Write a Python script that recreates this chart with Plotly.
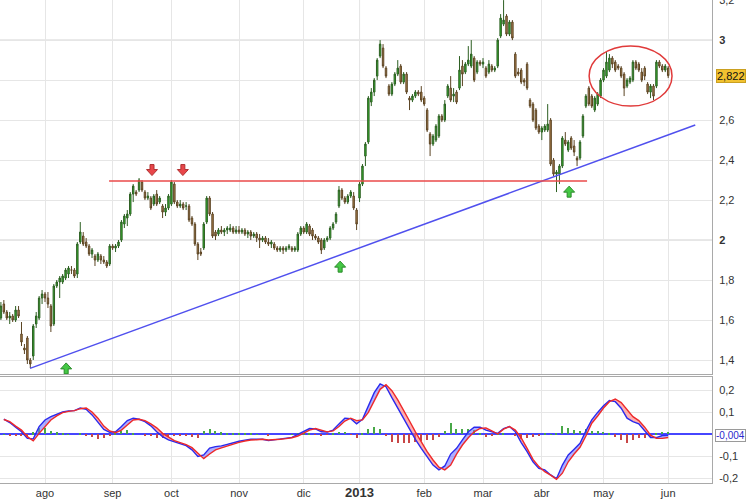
import pandas as pd
import plotly.graph_objects as go

# ---------------- sessions (Spanish market calendar) ----------------
holidays = ["2012-12-25", "2012-12-26", "2013-01-01", "2013-03-29", "2013-04-01", "2013-05-01"]
sessions = pd.bdate_range("2012-07-11", "2013-06-03")
sessions = sessions[~sessions.isin(pd.to_datetime(holidays))]

# ---------------- daily OHLC, by month ----------------
open_jul = [1.61,1.68,1.64,1.61,1.62,1.60,1.65,1.53,1.46,1.51,1.40,1.42,1.58,1.61,1.71]
high_jul = [1.69,1.70,1.65,1.64,1.63,1.67,1.67,1.59,1.48,1.52,1.41,1.58,1.64,1.72,1.75]
low_jul  = [1.60,1.63,1.60,1.58,1.59,1.59,1.61,1.47,1.43,1.38,1.36,1.40,1.56,1.60,1.68]
close_jul= [1.67,1.64,1.61,1.62,1.60,1.65,1.62,1.49,1.45,1.40,1.38,1.57,1.62,1.71,1.73]

open_aug = [1.73,1.71,1.67,1.58,1.77,1.79,1.79,1.81,1.83,1.85,1.85,1.83,1.99,2.02,1.99,1.97,1.93,1.92,1.90,1.92,1.90,1.89,1.88]
high_aug = [1.74,1.74,1.68,1.78,1.80,1.82,1.83,1.86,1.87,1.87,1.86,1.99,2.09,2.04,2.01,1.98,1.96,1.93,1.94,1.93,1.92,1.90,1.98]
low_aug  = [1.69,1.66,1.54,1.57,1.76,1.71,1.78,1.80,1.81,1.83,1.81,1.81,1.98,1.97,1.96,1.92,1.91,1.87,1.89,1.88,1.88,1.86,1.87]
close_aug= [1.71,1.68,1.57,1.77,1.79,1.81,1.82,1.85,1.86,1.85,1.82,1.98,2.04,1.98,1.97,1.93,1.95,1.90,1.93,1.90,1.89,1.87,1.97]

open_sep = [1.97,1.96,1.97,2.00,2.08,2.11,2.13,2.23,2.24,2.25,2.29,2.24,2.21,2.21,2.18,2.23,2.19,2.17,2.14,2.16]
high_sep = [1.98,1.98,2.00,2.10,2.13,2.15,2.24,2.28,2.25,2.31,2.30,2.25,2.24,2.22,2.23,2.25,2.22,2.18,2.18,2.23]
low_sep  = [1.95,1.94,1.96,1.99,2.06,2.07,2.12,2.19,2.22,2.24,2.24,2.20,2.20,2.15,2.17,2.17,2.18,2.11,2.12,2.15]
close_sep= [1.96,1.97,1.99,2.09,2.12,2.13,2.23,2.27,2.23,2.30,2.25,2.21,2.22,2.16,2.22,2.18,2.21,2.14,2.16,2.22]

open_oct = [2.18,2.28,2.19,2.17,2.18,2.17,2.17,2.11,2.08,1.98,1.94,1.96,2.09,2.21,2.13,2.04,2.03,2.05,2.04,2.05,2.05,2.06,2.04]
high_oct = [2.30,2.29,2.20,2.20,2.19,2.19,2.18,2.12,2.09,1.99,1.96,2.09,2.22,2.22,2.14,2.05,2.06,2.07,2.06,2.07,2.08,2.07,2.07]
low_oct  = [2.17,2.18,2.16,2.16,2.15,2.15,2.09,2.07,1.97,1.90,1.92,1.95,2.08,2.12,2.01,2.00,2.02,2.03,2.02,2.03,2.04,2.03,2.03]
close_oct= [2.29,2.19,2.17,2.18,2.16,2.17,2.10,2.08,1.98,1.93,1.93,2.08,2.21,2.13,2.02,2.02,2.05,2.04,2.05,2.06,2.06,2.04,2.05]

open_nov = [2.05,2.04,2.05,2.03,2.04,2.02,2.03,2.01,2.00,2.01,1.99,1.98,1.98,1.96,1.95,1.96,1.95,1.96,1.96,1.95,1.95,2.03]
high_nov = [2.07,2.06,2.06,2.05,2.05,2.04,2.04,2.03,2.02,2.02,2.01,2.00,1.99,1.97,1.97,1.97,1.97,1.98,1.97,1.97,2.04,2.07]
low_nov  = [2.03,2.03,2.02,2.01,2.00,2.01,1.99,1.96,1.99,1.98,1.97,1.96,1.95,1.94,1.94,1.93,1.94,1.95,1.94,1.94,1.94,2.02]
close_nov= [2.04,2.05,2.03,2.04,2.02,2.03,2.01,2.00,2.01,1.99,1.98,1.99,1.96,1.95,1.96,1.95,1.96,1.97,1.95,1.96,2.03,2.06]

open_dec = [2.06,2.04,2.07,2.05,2.02,2.01,2.00,1.96,2.00,2.01,2.06,2.09,2.17,2.25,2.21,2.19,2.22,2.22,2.15]
high_dec = [2.07,2.09,2.08,2.06,2.03,2.02,2.01,2.01,2.02,2.07,2.09,2.14,2.27,2.26,2.22,2.23,2.25,2.24,2.16]
low_dec  = [2.03,2.03,2.02,2.00,2.00,1.98,1.93,1.95,1.99,2.00,2.05,2.08,2.16,2.20,2.18,2.18,2.21,2.15,2.05]
close_dec= [2.04,2.08,2.03,2.02,2.01,1.99,1.95,2.00,2.01,2.06,2.08,2.13,2.25,2.21,2.19,2.22,2.24,2.16,2.08]

open_jan = [2.21,2.28,2.42,2.49,2.69,2.74,2.82,2.92,2.96,2.86,2.77,2.73,2.78,2.83,2.87,2.79,2.83,2.71,2.70,2.72,2.74,2.74]
high_jan = [2.29,2.38,2.49,2.72,2.76,2.81,2.91,3.00,2.98,2.87,2.78,2.79,2.84,2.90,2.88,2.84,2.84,2.72,2.73,2.75,2.75,2.77]
low_jan  = [2.19,2.27,2.37,2.48,2.67,2.72,2.80,2.91,2.86,2.81,2.72,2.72,2.77,2.82,2.78,2.78,2.73,2.65,2.69,2.71,2.72,2.69]
close_jan= [2.28,2.37,2.48,2.71,2.74,2.80,2.90,2.98,2.87,2.82,2.73,2.78,2.83,2.86,2.79,2.83,2.74,2.70,2.72,2.74,2.73,2.70]

open_feb = [2.71,2.65,2.53,2.48,2.50,2.52,2.62,2.60,2.72,2.76,2.72,2.74,2.76,2.87,2.84,2.88,2.87,2.91,2.84,2.89]
high_feb = [2.72,2.66,2.54,2.53,2.58,2.63,2.63,2.70,2.78,2.82,2.76,2.75,2.92,2.90,2.89,2.97,3.00,2.92,2.90,2.90]
low_feb  = [2.67,2.54,2.42,2.47,2.49,2.51,2.59,2.59,2.71,2.69,2.69,2.68,2.75,2.77,2.83,2.87,2.86,2.79,2.83,2.87]
close_feb= [2.68,2.55,2.48,2.52,2.57,2.62,2.60,2.68,2.77,2.70,2.73,2.69,2.85,2.83,2.88,2.90,2.93,2.80,2.89,2.88]

open_mar = [2.88,2.86,2.84,2.87,2.85,2.87,3.02,3.08,3.12,3.03,3.09,2.93,2.84,2.85,2.80,2.88,2.70,2.68,2.65,2.57]
high_mar = [2.91,2.87,2.90,2.88,2.87,3.01,3.13,3.20,3.13,3.10,3.10,2.94,2.86,2.86,2.81,2.89,2.71,2.69,2.66,2.58]
low_mar  = [2.86,2.81,2.83,2.84,2.84,2.86,3.01,3.07,3.02,3.02,3.00,2.81,2.82,2.78,2.77,2.75,2.66,2.59,2.55,2.53]
close_mar= [2.89,2.82,2.88,2.85,2.86,3.00,3.11,3.10,3.03,3.09,3.01,2.82,2.83,2.79,2.79,2.76,2.67,2.60,2.56,2.54]

open_apr = [2.54,2.55,2.55,2.60,2.40,2.33,2.33,2.37,2.50,2.45,2.51,2.47,2.41,2.41,2.52,2.67,2.76,2.72,2.65,2.68,2.72]
high_apr = [2.57,2.58,2.68,2.61,2.41,2.35,2.38,2.52,2.54,2.50,2.52,2.50,2.42,2.50,2.63,2.73,2.77,2.73,2.72,2.74,2.81]
low_apr  = [2.50,2.54,2.54,2.37,2.32,2.24,2.28,2.36,2.47,2.44,2.45,2.42,2.37,2.40,2.51,2.66,2.67,2.66,2.64,2.67,2.71]
close_apr= [2.56,2.57,2.58,2.38,2.33,2.34,2.37,2.51,2.48,2.49,2.46,2.44,2.40,2.49,2.62,2.72,2.68,2.67,2.71,2.73,2.80]

open_may = [2.80,2.82,2.85,2.91,2.89,2.87,2.86,2.83,2.77,2.79,2.80,2.89,2.88,2.84,2.86,2.78,2.74,2.77,2.77,2.89,2.87,2.85]
high_may = [2.86,2.94,2.93,2.92,2.90,2.88,2.87,2.84,2.81,2.82,2.90,2.90,2.89,2.86,2.87,2.79,2.78,2.78,2.90,2.90,2.88,2.88]
low_may  = [2.79,2.81,2.84,2.86,2.84,2.85,2.81,2.72,2.76,2.78,2.79,2.85,2.84,2.79,2.80,2.73,2.71,2.70,2.76,2.86,2.84,2.84]
close_may= [2.85,2.89,2.91,2.88,2.85,2.86,2.82,2.76,2.80,2.81,2.89,2.86,2.85,2.80,2.82,2.74,2.77,2.72,2.89,2.87,2.85,2.87]

open_jun = [2.86]
high_jun = [2.87]
low_jun  = [2.81]
close_jun= [2.822]

opens  = open_jul+open_aug+open_sep+open_oct+open_nov+open_dec+open_jan+open_feb+open_mar+open_apr+open_may+open_jun
highs  = high_jul+high_aug+high_sep+high_oct+high_nov+high_dec+high_jan+high_feb+high_mar+high_apr+high_may+high_jun
lows   = low_jul+low_aug+low_sep+low_oct+low_nov+low_dec+low_jan+low_feb+low_mar+low_apr+low_may+low_jun
closes = close_jul+close_aug+close_sep+close_oct+close_nov+close_dec+close_jan+close_feb+close_mar+close_apr+close_may+close_jun

n = min(len(sessions), len(opens), len(highs), len(lows), len(closes))
sessions = sessions[:n]
xs = list(range(n))

# ---------------- MACD (read every second session, starting at the 2nd) ----------------
macd_vals = [0.070,0.054,0.033,0.012,-0.018,-0.020,0.036,0.066,0.081,0.093,
             0.102,0.107,0.108,0.120,0.114,0.089,0.054,0.023,0.010,0.012,
             0.036,0.063,0.074,0.069,0.058,0.039,0.012,-0.010,-0.025,-0.033,
             -0.040,-0.051,-0.070,-0.100,-0.093,-0.062,-0.055,-0.052,-0.045,-0.037,
             -0.031,-0.026,-0.022,-0.022,-0.022,-0.028,-0.025,-0.022,-0.019,-0.013,
             0.000,0.012,0.027,0.025,0.012,0.011,0.020,0.048,0.074,0.072,
             0.048,0.069,0.127,0.190,0.230,0.217,0.167,0.119,0.074,0.023,
             -0.022,-0.063,-0.101,-0.139,-0.161,-0.143,-0.089,-0.063,-0.025,0.012,
             0.033,0.033,0.020,0.011,0.005,0.027,0.036,0.012,-0.037,-0.078,
             -0.124,-0.154,-0.161,-0.184,-0.201,-0.139,-0.093,-0.067,-0.040,0.016,
             0.066,0.100,0.130,0.154,0.149,0.119,0.074,0.058,0.048,0.017,
             -0.014,-0.014,-0.005,-0.004]
signal_vals = [0.068,0.058,0.038,0.020,-0.010,-0.029,0.005,0.036,0.066,0.084,
               0.099,0.105,0.108,0.117,0.120,0.102,0.074,0.038,0.016,0.008,
               0.020,0.043,0.066,0.069,0.063,0.048,0.030,0.005,-0.013,-0.028,
               -0.037,-0.046,-0.060,-0.083,-0.110,-0.089,-0.070,-0.061,-0.052,-0.043,
               -0.036,-0.030,-0.025,-0.024,-0.022,-0.025,-0.025,-0.022,-0.019,-0.015,
               -0.007,0.005,0.020,0.027,0.020,0.012,0.016,0.036,0.061,0.074,
               0.063,0.066,0.100,0.154,0.205,0.226,0.199,0.157,0.111,0.061,
               0.012,-0.033,-0.078,-0.116,-0.149,-0.161,-0.139,-0.089,-0.048,-0.015,
               0.012,0.027,0.030,0.016,0.002,0.024,0.036,0.020,-0.016,-0.063,
               -0.113,-0.146,-0.169,-0.185,-0.204,-0.176,-0.124,-0.089,-0.058,-0.007,
               0.051,0.084,0.120,0.149,0.161,0.145,0.111,0.081,0.063,0.033,
               -0.003,-0.018,-0.018,-0.014]
macd_x = list(range(1, n, 2))
m = min(len(macd_x), len(macd_vals), len(signal_vals))
macd_x, macd_vals, signal_vals = macd_x[:m], macd_vals[:m], signal_vals[:m]
hist_vals = [a - b for a, b in zip(macd_vals, signal_vals)]

# ---------------- axis labels ----------------
month_keys = ["2012-08","2012-09","2012-10","2012-11","2012-12","2013-01","2013-02","2013-03","2013-04","2013-05","2013-06"]
month_labels = ["ago","sep","oct","nov","dic","<b><span style='font-size:13px'>2013</span></b>","feb","mar","abr","may","jun"]
keys = list(sessions.strftime("%Y-%m"))
month_pos = [keys.index(k) for k in month_keys]

price_ticks = [1.4,1.6,1.8,2.0,2.2,2.4,2.6,2.8,3.0,3.2]
price_labels = ["1,4","1,6","1,8","<b>2</b>","2,2","2,4","2,6","","<b>3</b>","3,2"]  # 2,8 sits under the last-price tag
macd_ticks = [-0.2,-0.1,0.1,0.2]
macd_labels = ["-0,2","-0,1","0,1","0,2"]

# ---------------- chart annotations (levels) ----------------
support_start = (9.9, 1.358)
support_end = (236.2, 2.575)
resistance_level = 2.295
resistance_span = (36.8, 199.4)
range_box = (200.1, 228.3, 2.67, 2.971)
down_arrows = [(51.4, 2.35), (61.9, 2.35)]
up_arrows = [(22.2, 1.358), (115.4, 1.867), (193.3, 2.242)]

FONT = "Liberation Sans, Arial, sans-serif"
GRID = "#e6e6e6"
BORDER = "#a9a9a9"
fig = go.Figure()

fig.add_trace(go.Candlestick(
    x=xs, open=opens[:n], high=highs[:n], low=lows[:n], close=closes[:n],
    increasing=dict(line=dict(color="#2d5f22", width=1), fillcolor="#34b82e"),
    decreasing=dict(line=dict(color="#5b4423", width=1), fillcolor="#b58650"),
    whiskerwidth=0, hoverinfo="skip", xaxis="x", yaxis="y", showlegend=False))

# histogram
fig.add_trace(go.Bar(x=macd_x, y=hist_vals, width=0.4,
                     marker=dict(color=["#48a848" if v >= 0 else "#c84646" for v in hist_vals], line=dict(width=0)),
                     xaxis="x2", yaxis="y2", showlegend=False, hoverinfo="skip"))

# fills between MACD and signal
px_, pm_, ps_ = [macd_x[0]], [macd_vals[0]], [signal_vals[0]]
for i in range(1, m):
    d0 = macd_vals[i-1] - signal_vals[i-1]
    d1 = macd_vals[i] - signal_vals[i]
    if d0 * d1 < 0:
        t = d0 / (d0 - d1)
        xc = macd_x[i-1] + t * (macd_x[i] - macd_x[i-1])
        yc = macd_vals[i-1] + t * (macd_vals[i] - macd_vals[i-1])
        px_.append(xc); pm_.append(yc); ps_.append(yc)
    px_.append(macd_x[i]); pm_.append(macd_vals[i]); ps_.append(signal_vals[i])

runs = []
cur = [0]
for i in range(1, len(px_)):
    cur.append(i)
    if abs(pm_[i] - ps_[i]) < 1e-12:
        runs.append(cur)
        cur = [i]
if len(cur) > 1:
    runs.append(cur)
for r in runs:
    s = sum(pm_[i] - ps_[i] for i in r)
    if abs(s) < 1e-12:
        continue
    col = "rgba(110,110,255,0.55)" if s > 0 else "rgba(255,110,110,0.55)"
    rx = [px_[i] for i in r]
    fig.add_trace(go.Scatter(x=rx + rx[::-1], y=[pm_[i] for i in r] + [ps_[i] for i in r][::-1],
                             fill="toself", fillcolor=col, mode="none", xaxis="x2", yaxis="y2",
                             showlegend=False, hoverinfo="skip"))

fig.add_trace(go.Scatter(x=macd_x, y=macd_vals, mode="lines", line=dict(color="#2a2aee", width=1.4),
                         xaxis="x2", yaxis="y2", showlegend=False, hoverinfo="skip"))
fig.add_trace(go.Scatter(x=macd_x, y=signal_vals, mode="lines", line=dict(color="#ee2a2a", width=1.4),
                         xaxis="x2", yaxis="y2", showlegend=False, hoverinfo="skip"))

shapes = []
jan_pos = month_pos[5]
shapes.append(dict(type="line", xref="x", yref="y domain", x0=jan_pos, x1=jan_pos, y0=0, y1=1,
                   line=dict(color="#c6c6c6", width=1), layer="below"))
shapes.append(dict(type="line", xref="x2", yref="y2 domain", x0=jan_pos, x1=jan_pos, y0=0, y1=1,
                   line=dict(color="#c6c6c6", width=1), layer="below"))
for lv in (2.0, 3.0):
    shapes.append(dict(type="line", xref="x domain", yref="y", x0=0, x1=1, y0=lv, y1=lv,
                       line=dict(color="#cdcdcd", width=1), layer="below"))
shapes.append(dict(type="line", xref="x", yref="y", x0=support_start[0], y0=support_start[1],
                   x1=support_end[0], y1=support_end[1], line=dict(color="#5050ee", width=1.5)))
shapes.append(dict(type="line", xref="x", yref="y", x0=resistance_span[0], x1=resistance_span[1],
                   y0=resistance_level, y1=resistance_level, line=dict(color="#ea4a4a", width=1.5)))
shapes.append(dict(type="circle", xref="x", yref="y", x0=range_box[0], x1=range_box[1],
                   y0=range_box[2], y1=range_box[3], line=dict(color="#e03a3a", width=1.5)))

def arrow_path(up):
    pts = [(-2, 5.5), (2, 5.5), (2, 0.5), (5.5, 0.5), (0, -5.5), (-5.5, 0.5), (-2, 0.5)]
    if up:
        pts = [(a, -b) for a, b in pts]
    return "M " + " L ".join(f"{a} {b}" for a, b in pts) + " Z"

for ax_, ay_ in down_arrows:
    shapes.append(dict(type="path", xref="x", yref="y", xsizemode="pixel", ysizemode="pixel",
                       xanchor=ax_, yanchor=ay_, path=arrow_path(False),
                       fillcolor="#e8464a", line=dict(color="#b03030", width=1)))
for ax_, ay_ in up_arrows:
    shapes.append(dict(type="path", xref="x", yref="y", xsizemode="pixel", ysizemode="pixel",
                       xanchor=ax_, yanchor=ay_, path=arrow_path(True),
                       fillcolor="#44c844", line=dict(color="#2a8a2a", width=1)))

annotations = [
    dict(xref="paper", x=1, xanchor="left", xshift=4, yref="y", y=closes[n-1],
         text=f"{closes[n-1]:.3f}".replace(".", ","), showarrow=False,
         font=dict(family=FONT, size=11, color="#111"), bgcolor="#f2c230", bordercolor="#caa020",
         borderwidth=1, borderpad=0),
    dict(xref="paper", x=1, xanchor="left", xshift=3, yref="y2", y=macd_vals[-1],
         text=f"{macd_vals[-1]:.3f}".replace(".", ","), showarrow=False,
         font=dict(family=FONT, size=10, color="#2a2acc"), bgcolor="white", bordercolor="#9a9a9a",
         borderwidth=1, borderpad=0),
]

xr = [-0.31, 241.9]
fig.update_layout(
    width=746, height=500,
    margin=dict(l=0, r=34, t=0, b=17, autoexpand=False),
    paper_bgcolor="white", plot_bgcolor="white",
    font=dict(family=FONT, size=11, color="#333"),
    hovermode=False, bargap=0,
    shapes=shapes, annotations=annotations,
    xaxis=dict(domain=[0, 1], anchor="y", range=xr, tickvals=month_pos, showticklabels=False,
               showgrid=True, gridcolor=GRID, zeroline=False, showline=True, linecolor=BORDER,
               ticks="", automargin=False, rangeslider=dict(visible=False)),
    xaxis2=dict(domain=[0, 1], anchor="y2", matches="x", range=xr, tickvals=month_pos, ticktext=month_labels,
                showgrid=True, gridcolor=GRID, zeroline=False, showline=True, mirror=True, linecolor=BORDER,
                ticks="", automargin=False, tickfont=dict(family=FONT, size=11, color="#333")),
    yaxis=dict(domain=[109/483, 1], anchor="x", side="right", range=[1.33, 3.2005],
               tickvals=price_ticks, ticktext=price_labels, showgrid=True, gridcolor=GRID,
               zeroline=False, showline=True, linecolor=BORDER, ticks="", ticklabelstandoff=4,
               ticklabeloverflow="allow", automargin=False,
               tickfont=dict(family=FONT, size=11, color="#333")),
    yaxis2=dict(domain=[0, 106/483], anchor="x2", side="right", range=[-0.2205, 0.261],
                tickvals=macd_ticks, ticktext=macd_labels, showgrid=True, gridcolor=GRID,
                zeroline=True, zerolinecolor="#4646ff", zerolinewidth=1.5,
                showline=True, linecolor=BORDER, ticks="", ticklabelstandoff=4, automargin=False,
                tickfont=dict(family=FONT, size=11, color="#333")),
)

fig.write_html("out.html")
